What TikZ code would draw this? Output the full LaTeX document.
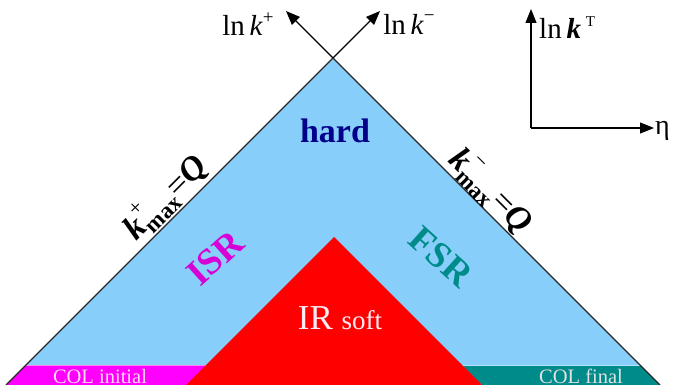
\documentclass[tikz,border=0pt]{standalone}
\usepackage{fontspec}
\setmainfont{Liberation Serif}
\usetikzlibrary{arrows.meta}
\definecolor{skyfill}{RGB}{135,206,250}
\definecolor{hardblue}{RGB}{0,0,139}
\definecolor{isrmag}{RGB}{215,0,215}
\definecolor{bandmag}{RGB}{255,0,255}
\definecolor{tealc}{RGB}{0,139,139}
\definecolor{colpink}{RGB}{255,220,240}
\definecolor{colgrey}{RGB}{225,225,225}
\definecolor{edgegrey}{RGB}{40,40,40}
\newcommand{\fsz}[1]{\fontsize{#1}{#1}\selectfont}
\tikzset{
  edgeline/.style={draw=edgegrey, line width=1.1pt},
  axisarrow/.style={draw=black, line width=1.1pt, -{Triangle[length=14pt,width=11pt]}},
  lbl/.style={inner sep=0pt, anchor=center},
}
\begin{document}
\begin{tikzpicture}[x=1pt,y=-1pt]
\useasboundingbox (0,0) rectangle (675,385);
\fill[white] (0,0) rectangle (675,385);
% key points
\coordinate (apex) at (333,58);
\coordinate (bl) at (6,385);
\coordinate (br) at (660,385);
\coordinate (tipp) at (286,11);
\coordinate (tipm) at (380,11);
\coordinate (rapex) at (334,237);
\coordinate (rbl) at (186,385);
\coordinate (rbr) at (482,385);
% regions
\fill[skyfill] (bl) -- (apex) -- (br) -- cycle;
\fill[bandmag] (26,365) -- (300,365) -- (300,385) -- (bl) -- cycle;
\fill[tealc] (640,365) -- (370,365) -- (370,385) -- (br) -- cycle;
\draw[colpink!60!bandmag, line width=0.8pt] (26,365) -- (210,365);
\draw[skyfill!60!white, line width=0.8pt] (458,365) -- (640,365);
\fill[red] (rapex) -- (rbl) -- (rbr) -- cycle;
% edges / light-cone axes
\draw[edgeline] (bl) -- (apex);
\draw[edgeline] (br) -- (apex);
\draw[axisarrow] (apex) -- (tipp);
\draw[axisarrow] (apex) -- (tipm);
\node[lbl, font=\fsz{29}] (lkp) at (248,24) {ln\,\textit{k}\raisebox{0.42em}{\fsz{19}+}};
\node[lbl, font=\fsz{29}] (lkm) at (409,24) {ln\,\textit{k}\raisebox{0.42em}{\fsz{19}−}};
% top-right axes
\coordinate (o) at (531,128);
\coordinate (ytip) at (531,9);
\coordinate (xtip) at (654,128);
\draw[axisarrow] (o) -- (ytip);
\draw[axisarrow] (o) -- (xtip);
\node[lbl, anchor=west, font=\fsz{29}] (lkt) at (539,28) {ln\,\textbf{\textit{k}}\,\raisebox{0.42em}{\fsz{15}T}};
\node[lbl, anchor=west, font=\fsz{28}] (eta) at (655,131) {η};
% region labels
\node[lbl, font=\fsz{34}\bfseries, text=hardblue] (hard) at (335,131) {hard};
\node[lbl, font=\fsz{37}\bfseries, text=isrmag, rotate=42] (isr) at (215,258) {ISR};
\node[lbl, font=\fsz{37}\bfseries, text=tealc, rotate=-42] (fsr) at (441,257) {FSR};
\node[lbl, text=colpink!60!white] (ir) at (340,318) {\fsz{35}IR \fsz{27}soft};
\node[lbl, font=\fsz{20.5}, text=colpink] (coli) at (100,376) {COL initial};
\node[lbl, font=\fsz{20.5}, text=colgrey] (colf) at (581,376) {COL final};
% edge labels
\node[lbl, rotate=45] (kp) at (165,197) {\fsz{34}\bfseries\itshape k\rlap{\raisebox{0.5em}{\fsz{22}\upshape\mdseries +}}\raisebox{-0.22em}{\fsz{23}\upshape\bfseries max}\fsz{34}\upshape\mdseries =\bfseries\itshape Q};
\node[lbl, rotate=-45] (km) at (490,192) {\fsz{34}\bfseries\itshape k\rlap{\raisebox{0.5em}{\fsz{22}\upshape\mdseries −}}\raisebox{-0.22em}{\fsz{23}\upshape\bfseries max}\fsz{34}\upshape\mdseries =\bfseries\itshape Q};
\end{tikzpicture}
\end{document}
